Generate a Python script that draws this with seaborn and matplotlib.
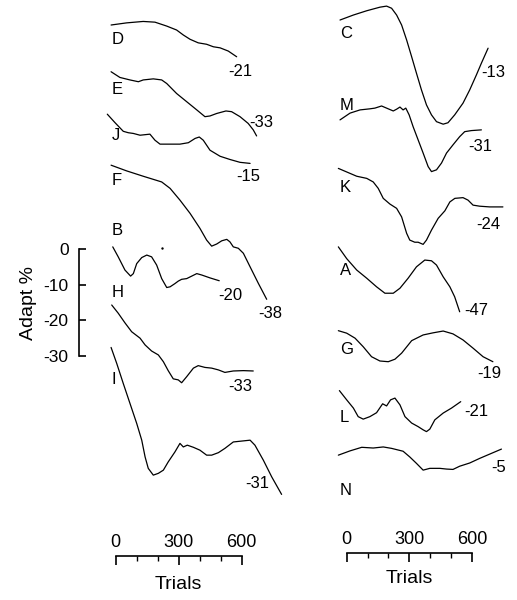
import numpy as np
import pandas as pd
import matplotlib
matplotlib.use("Agg")
import matplotlib.pyplot as plt
import seaborn as sns

# ---------------- data: trials and adaptation (%) relative to trace start ----------------
D_trials = [-22, 52, 131, 187, 243, 290, 322, 354, 393, 433, 465, 497, 536, 576]
D_adapt = [0, 0.6, 1.0, 0.8, -0.3, -1.4, -2.8, -4.0, -5.0, -5.4, -6.1, -6.4, -7.3, -8.9]

E_trials = [-22, 20, 68, 108, 131, 179, 219, 243, 290, 338, 386, 425, 449, 481, 525, 552, 592, 631, 655, 671]
E_adapt = [0, -1.6, -2.3, -2.8, -2.3, -2.0, -2.3, -3.3, -6.1, -8.4, -10.7, -12.6, -12.4, -11.7, -11.0, -11.2, -12.6, -14.5, -16.3, -18.0]

J_trials = [-40, -3, 36, 60, 84, 116, 163, 187, 211, 259, 306, 346, 378, 398, 417, 449, 497, 544, 592, 640]
J_adapt = [0, -2.4, -4.8, -5.2, -5.4, -5.9, -5.6, -7.3, -8.4, -8.4, -8.4, -8.0, -6.8, -6.4, -7.3, -10.1, -11.8, -12.7, -13.5, -13.8]

F_trials = [-22, 52, 131, 219, 259, 306, 354, 401, 433, 457, 481, 505, 529, 544, 560, 584, 608, 640, 679, 719]
F_adapt = [0, -1.6, -3.1, -4.7, -6.5, -9.8, -13.5, -17.7, -21.0, -22.7, -22.1, -21.2, -20.8, -21.5, -22.9, -23.3, -24.7, -28.5, -33.1, -37.6]

B_trials = [-14, 12, 44, 71, 84, 100, 124, 148, 171, 195, 219, 243, 259, 282, 298, 314, 338, 362, 386, 410, 449, 493]
B_adapt = [0, -2.8, -6.5, -8.2, -7.5, -4.7, -3.0, -2.3, -2.8, -5.1, -8.9, -11.4, -11.2, -10.3, -9.6, -9.1, -8.9, -8.2, -7.5, -7.9, -8.7, -9.5]
B_dot_trial = [219]
B_dot_adapt = [-0.3]

H_trials = [-19, 12, 44, 76, 116, 140, 171, 203, 227, 250, 274, 298, 314, 338, 370, 393, 425, 457, 489, 520, 560, 608, 655]
H_adapt = [0, -2.3, -5.0, -7.5, -9.3, -11.2, -12.9, -14.0, -15.9, -18.4, -20.7, -21.0, -21.8, -20.1, -17.7, -17.0, -17.5, -17.7, -18.2, -18.9, -18.5, -18.4, -18.5]

I_trials = [-22, 5, 36, 68, 100, 124, 140, 155, 179, 203, 227, 250, 282, 306, 322, 341, 370, 401, 433, 457, 489, 520, 560, 608, 640, 663, 703, 743, 790]
I_adapt = [0, -4.5, -10.1, -15.7, -21.3, -26.0, -30.7, -33.9, -35.8, -35.3, -34.4, -32.1, -29.3, -26.9, -27.9, -27.4, -28.0, -28.8, -30.2, -30.2, -29.5, -28.3, -26.5, -26.2, -26.0, -27.4, -31.6, -36.3, -41.2]

C_trials = [-32, 32, 96, 159, 191, 215, 239, 263, 287, 311, 334, 358, 382, 406, 430, 462, 485, 517, 557, 589, 621, 645, 677]
C_adapt = [0, 1.4, 2.6, 3.6, 3.9, 3.3, 1.4, -1.4, -5.6, -10.3, -14.9, -19.6, -23.8, -26.6, -28.5, -29.2, -28.8, -26.6, -23.3, -19.6, -15.4, -12.1, -7.9]

M_trials = [-32, 16, 64, 111, 135, 167, 191, 223, 239, 255, 270, 283, 299, 318, 342, 366, 390, 406, 430, 454, 478, 509, 541, 565, 597, 645]
M_adapt = [0, 1.9, 2.8, 3.1, 3.3, 3.9, 3.3, 2.5, 3.0, 3.6, 2.8, 3.3, 1.4, -1.9, -5.6, -9.3, -13.1, -14.5, -14.0, -12.1, -9.3, -7.0, -4.7, -3.3, -3.0, -2.8]

K_trials = [-40, 0, 48, 96, 127, 151, 175, 207, 239, 263, 287, 302, 326, 342, 366, 382, 406, 438, 470, 494, 518, 557, 581, 605, 637, 685, 748]
K_adapt = [0, -1.0, -2.2, -2.8, -3.8, -5.6, -8.4, -10.0, -11.2, -13.6, -18.2, -20.1, -20.7, -20.7, -21.3, -20.1, -17.3, -14.0, -11.9, -9.4, -8.4, -8.2, -8.9, -10.3, -10.6, -10.8, -10.8]

A_trials = [-40, 0, 48, 96, 143, 183, 223, 255, 294, 334, 374, 406, 430, 462, 494, 517, 541]
A_adapt = [0, -3.3, -6.5, -8.8, -11.2, -13.0, -13.0, -11.6, -8.8, -5.6, -3.7, -3.9, -5.1, -8.4, -11.2, -14.0, -18.2]

G_trials = [-40, 0, 40, 79, 119, 159, 199, 231, 263, 311, 366, 414, 462, 509, 557, 605, 653, 700]
G_adapt = [0, -0.7, -2.1, -4.5, -7.3, -8.5, -8.7, -8.0, -6.3, -2.8, -1.2, -0.6, -0.1, -0.9, -2.6, -4.9, -7.3, -8.7]

L_trials = [-35, 0, 32, 55, 79, 111, 143, 172, 191, 210, 231, 255, 279, 311, 342, 366, 382, 398, 422, 462, 502, 546]
L_adapt = [0, -2.6, -4.9, -7.3, -8.0, -7.3, -6.2, -3.7, -4.3, -2.6, -2.1, -4.0, -7.3, -9.1, -10.1, -11.0, -11.5, -10.8, -8.2, -6.3, -4.9, -3.1]

N_trials = [-40, 16, 72, 127, 175, 215, 270, 302, 334, 366, 398, 446, 478, 509, 541, 589, 637, 685, 741]
N_adapt = [0, 1.2, 2.2, 2.0, 2.3, 1.9, 1.1, -0.5, -2.3, -4.2, -3.7, -3.7, -3.9, -4.0, -3.1, -2.2, -0.9, 0.3, 1.7]

left_names = ["D", "E", "J", "F", "B", "H", "I"]
right_names = ["C", "M", "K", "A", "G", "L", "N"]
end_values_left = [-21, -33, -15, -38, -20, -33, -31]
end_values_right = [-13, -31, -24, -47, -19, -21, -5]

x_ticks = [0, 300, 600]
x_minor_ticks = [0, 100, 200, 300, 400, 500, 600]
y_ticks = [0, -10, -20, -30]
y_ticklabels = ["0", "-10", "-20", "-30"]

# ---------------- layout (vertical stacking, label positions) ----------------
offsets_left = [62.8, 49.7, 37.8, 23.5, 0.6, -15.7, -27.6]
offsets_right = [64.2, 36.2, 22.6, 0.6, -22.9, -39.7, -57.8]
letter_y_left = [58.7, 44.7, 31.7, 19.1, 5.2, -12.3, -36.7]
letter_y_right = [60.3, 40.1, 17.2, -6.1, -28.1, -47.3, -67.6]
endlab_left = [(535, 49.7), (635, 35.6), (576, 20.2), (678, -18.1), (487, -12.9), (535, -38.6), (616, -65.7)]
endlab_right = [(645, 49.5), (580, 28.7), (621, 7.0), (565, -17.3), (627, -34.8), (565, -45.7), (693, -61.4)]

W, H = 517, 600
PX_PER_TRIAL_L = 126.0 / 600
PX_PER_TRIAL_R = 125.3 / 600
PX_PER_PCT = 107.0 / 30
X0_LEFT, X0_RIGHT = 115.7, 346.7     # pixel of trial 0
Y0_PX = 249.0                         # pixel of 0 % on scale bar

sns.set_theme(style="white")
plt.rcParams["font.family"] = ["Liberation Sans", "DejaVu Sans"]
plt.rcParams["axes.unicode_minus"] = False
for key in ["text.color", "axes.edgecolor", "xtick.color", "ytick.color", "axes.labelcolor"]:
    plt.rcParams[key] = "black"

data = {
    "D": (D_trials, D_adapt), "E": (E_trials, E_adapt), "J": (J_trials, J_adapt),
    "F": (F_trials, F_adapt), "B": (B_trials, B_adapt), "H": (H_trials, H_adapt),
    "I": (I_trials, I_adapt), "C": (C_trials, C_adapt), "M": (M_trials, M_adapt),
    "K": (K_trials, K_adapt), "A": (A_trials, A_adapt), "G": (G_trials, G_adapt),
    "L": (L_trials, L_adapt), "N": (N_trials, N_adapt),
}

fig = plt.figure(figsize=(W / 100, H / 100), dpi=100)


def trace_axes(x0_px, k):
    ax = fig.add_axes([0, 0, 1, 1])
    ax.set_xlim(-x0_px / k, (W - x0_px) / k)
    ax.set_ylim(-(H - Y0_PX) / PX_PER_PCT, Y0_PX / PX_PER_PCT)
    ax.set_axis_off()
    ax.patch.set_alpha(0)
    return ax


def draw_column(ax, names, offsets, letter_y, letter_x, endlabs, endvals):
    for name, off, ly, (ex, ey), ev in zip(names, offsets, letter_y, endlabs, endvals):
        t, v = data[name]
        df = pd.DataFrame({"trial": t, "adapt": np.array(v) + off})
        sns.lineplot(data=df, x="trial", y="adapt", ax=ax, color="black",
                     linewidth=0.9, sort=False, estimator=None)
        ax.text(letter_x, ly, name, ha="left", va="center", fontsize=12)
        ax.text(ex, ey, f"{ev}", ha="left", va="center", fontsize=12)
    ax.set_axis_off()


axL = trace_axes(X0_LEFT, PX_PER_TRIAL_L)
draw_column(axL, left_names, offsets_left, letter_y_left, -20, endlab_left, end_values_left)
# small stray point near trace B
sns.scatterplot(x=B_dot_trial, y=np.array(B_dot_adapt) + offsets_left[4], ax=axL,
                color="black", s=3, linewidth=0)
axL.set_axis_off()

axR = trace_axes(X0_RIGHT, PX_PER_TRIAL_R)
draw_column(axR, right_names, offsets_right, letter_y_right, -32, endlab_right, end_values_right)


def x_scalebar(x0_px, k, bar_y, labelpad):
    top = (H - bar_y) / H
    hgt = 1.0 / H
    ax = fig.add_axes([x0_px / W, top - hgt, 600 * k / W, hgt])
    ax.set_xlim(0, 600)
    for s in ["left", "right", "bottom"]:
        ax.spines[s].set_visible(False)
    ax.spines["top"].set_visible(True)
    ax.spines["top"].set_linewidth(1.2)
    ax.xaxis.tick_top()
    ax.set_xticks(x_ticks)
    ax.set_xticks(x_minor_ticks, minor=True)
    ax.tick_params(axis="x", which="major", direction="in", length=6.5, width=1.2,
                   labelsize=13, pad=3.5, top=True, bottom=False)
    ax.tick_params(axis="x", which="minor", direction="in", length=3.6, width=1.0,
                   top=True, bottom=False)
    ax.set_yticks([])
    ax.xaxis.set_label_position("bottom")
    ax.set_xlabel("Trials", fontsize=14, labelpad=labelpad)
    ax.patch.set_alpha(0)
    return ax


x_scalebar(X0_LEFT, PX_PER_TRIAL_L, 555.7, 14)
x_scalebar(X0_RIGHT, PX_PER_TRIAL_R, 553.3, 11)

# y scale bar
axY = fig.add_axes([79.0 / W, (H - (Y0_PX + 30 * PX_PER_PCT)) / H, 0.01, 30 * PX_PER_PCT / H])
axY.set_ylim(-30, 0)
for s in ["top", "right", "bottom"]:
    axY.spines[s].set_visible(False)
axY.spines["left"].set_visible(True)
axY.spines["left"].set_linewidth(1.2)
axY.set_yticks(y_ticks)
axY.set_yticklabels(y_ticklabels)
axY.tick_params(axis="y", direction="in", length=5, width=1.2, labelsize=12.5, pad=7.5, left=True)
axY.set_xticks([])
axY.set_ylabel("Adapt %", fontsize=14, labelpad=5)
axY.patch.set_alpha(0)

fig.savefig("out.png", dpi=100)
